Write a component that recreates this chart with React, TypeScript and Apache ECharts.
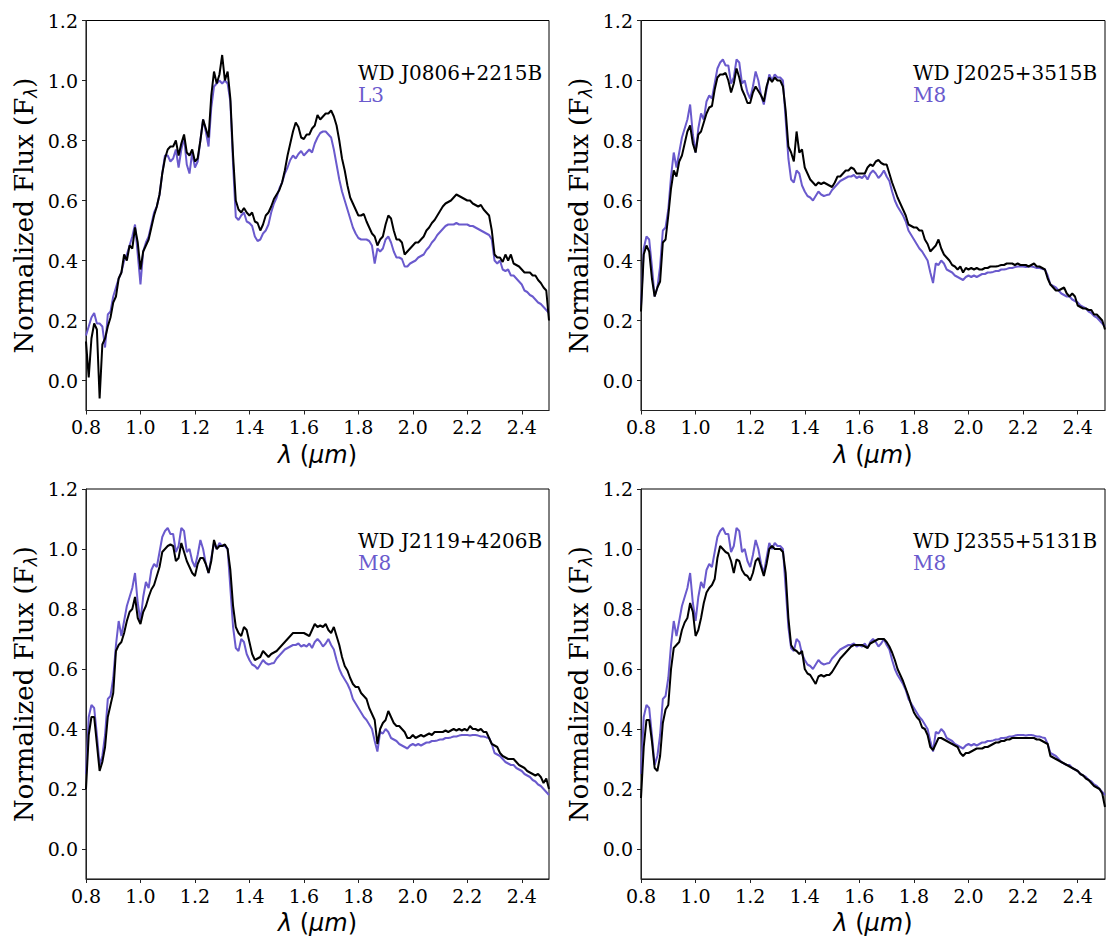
import React, { useEffect, useRef } from "react";
import * as echarts from "echarts";

const wavelength = [
  0.80, 0.81, 0.82, 0.83, 0.84, 0.85, 0.86, 0.87, 0.88, 0.89,
  0.90, 0.91, 0.92, 0.93, 0.94, 0.95, 0.96, 0.97, 0.98, 0.99,
  1.00, 1.01, 1.02, 1.03, 1.04, 1.05, 1.06, 1.07, 1.08, 1.09,
  1.10, 1.11, 1.12, 1.13, 1.14, 1.15, 1.16, 1.17, 1.18, 1.19,
  1.20, 1.21, 1.22, 1.23, 1.24, 1.25, 1.26, 1.27, 1.28, 1.29,
  1.30, 1.31, 1.32, 1.33, 1.34, 1.35, 1.36, 1.37, 1.38, 1.39,
  1.40, 1.41, 1.42, 1.43, 1.44, 1.45, 1.46, 1.47, 1.48, 1.49,
  1.50, 1.51, 1.52, 1.53, 1.54, 1.55, 1.56, 1.57, 1.58, 1.59,
  1.60, 1.61, 1.62, 1.63, 1.64, 1.65, 1.66, 1.67, 1.68, 1.69,
  1.70, 1.71, 1.72, 1.73, 1.74, 1.75, 1.76, 1.77, 1.78, 1.79,
  1.80, 1.81, 1.82, 1.83, 1.84, 1.85, 1.86, 1.87, 1.88, 1.89,
  1.90, 1.91, 1.92, 1.93, 1.94, 1.95, 1.96, 1.97, 1.98, 1.99,
  2.00, 2.01, 2.02, 2.03, 2.04, 2.05, 2.06, 2.07, 2.08, 2.09,
  2.10, 2.11, 2.12, 2.13, 2.14, 2.15, 2.16, 2.17, 2.18, 2.19,
  2.20, 2.21, 2.22, 2.23, 2.24, 2.25, 2.26, 2.27, 2.28, 2.29,
  2.30, 2.31, 2.32, 2.33, 2.34, 2.35, 2.36, 2.37, 2.38, 2.39,
  2.40, 2.41, 2.42, 2.43, 2.44, 2.45, 2.46, 2.47, 2.48, 2.49,
  2.50,
];

const fluxJ0806 = [
  0.13, 0.01, 0.14, 0.19, 0.17, -0.06, 0.12, 0.14, 0.18, 0.21,
  0.26, 0.28, 0.34, 0.36, 0.42, 0.40, 0.45, 0.44, 0.51, 0.46,
  0.37, 0.43, 0.45, 0.47, 0.51, 0.55, 0.58, 0.62, 0.69, 0.74,
  0.77, 0.78, 0.78, 0.80, 0.75, 0.79, 0.82, 0.76, 0.75, 0.77,
  0.73, 0.74, 0.80, 0.87, 0.84, 0.81, 0.95, 1.03, 0.99, 1.02,
  1.085, 1.00, 1.03, 0.94, 0.75, 0.60, 0.57, 0.56, 0.575, 0.56,
  0.55, 0.56, 0.53, 0.525, 0.50, 0.52, 0.55, 0.56, 0.58, 0.605,
  0.62, 0.635, 0.66, 0.70, 0.75, 0.79, 0.83, 0.86, 0.845, 0.81,
  0.805, 0.82, 0.82, 0.84, 0.85, 0.885, 0.87, 0.88, 0.89, 0.89,
  0.90, 0.88, 0.85, 0.80, 0.74, 0.70, 0.65, 0.61, 0.59, 0.57,
  0.55, 0.55, 0.555, 0.53, 0.51, 0.49, 0.48, 0.45, 0.47, 0.48,
  0.52, 0.55, 0.54, 0.50, 0.47, 0.47, 0.46, 0.42, 0.43, 0.44,
  0.45, 0.46, 0.46, 0.47, 0.48, 0.50, 0.51, 0.525, 0.535, 0.55,
  0.565, 0.58, 0.59, 0.595, 0.60, 0.61, 0.62, 0.615, 0.61, 0.605,
  0.60, 0.60, 0.59, 0.585, 0.58, 0.585, 0.57, 0.56, 0.55, 0.50,
  0.42, 0.41, 0.41, 0.395, 0.42, 0.40, 0.42, 0.39, 0.385, 0.38,
  0.37, 0.36, 0.36, 0.36, 0.35, 0.35, 0.335, 0.325, 0.31, 0.30,
  0.20,
];

const fluxL3 = [
  0.15, 0.18, 0.21, 0.225, 0.19, 0.19, 0.18, 0.11, 0.22, 0.23,
  0.28, 0.31, 0.34, 0.36, 0.40, 0.42, 0.45, 0.48, 0.52, 0.42,
  0.32, 0.43, 0.46, 0.48, 0.52, 0.56, 0.58, 0.62, 0.69, 0.75,
  0.75, 0.73, 0.74, 0.77, 0.71, 0.77, 0.81, 0.72, 0.69, 0.76,
  0.71, 0.73, 0.80, 0.87, 0.83, 0.78, 0.91, 0.98, 0.99, 1.00,
  0.99, 1.00, 0.99, 0.93, 0.72, 0.545, 0.535, 0.55, 0.56, 0.53,
  0.525, 0.515, 0.48, 0.465, 0.47, 0.49, 0.50, 0.52, 0.56, 0.59,
  0.61, 0.64, 0.66, 0.69, 0.71, 0.735, 0.75, 0.74, 0.755, 0.765,
  0.75, 0.76, 0.77, 0.76, 0.79, 0.81, 0.825, 0.83, 0.83, 0.82,
  0.81, 0.77, 0.72, 0.67, 0.63, 0.60, 0.57, 0.54, 0.51, 0.49,
  0.475, 0.47, 0.47, 0.47, 0.465, 0.45, 0.39, 0.44, 0.43, 0.44,
  0.47, 0.48, 0.46, 0.43, 0.41, 0.41, 0.405, 0.38, 0.38, 0.39,
  0.395, 0.40, 0.41, 0.415, 0.42, 0.435, 0.445, 0.46, 0.47, 0.485,
  0.495, 0.505, 0.515, 0.52, 0.52, 0.52, 0.525, 0.52, 0.52, 0.52,
  0.52, 0.515, 0.515, 0.51, 0.505, 0.50, 0.495, 0.49, 0.485, 0.47,
  0.40, 0.39, 0.40, 0.37, 0.365, 0.37, 0.35, 0.35, 0.34, 0.33,
  0.32, 0.30, 0.295, 0.285, 0.28, 0.27, 0.26, 0.255, 0.245, 0.235,
  0.225,
];

const fluxM8 = [
  0.25, 0.44, 0.48, 0.47, 0.38, 0.28, 0.31, 0.38, 0.50, 0.51,
  0.57, 0.68, 0.76, 0.71, 0.76, 0.81, 0.84, 0.87, 0.92, 0.82,
  0.76, 0.84, 0.89, 0.87, 0.93, 0.95, 0.94, 0.99, 1.04, 1.06,
  1.07, 1.05, 1.05, 0.99, 1.01, 1.07, 1.06, 0.99, 1.00, 0.96,
  0.94, 0.98, 1.03, 1.00, 0.95, 0.92, 0.97, 1.02, 1.00, 1.02,
  1.01, 1.01, 1.00, 0.87, 0.74, 0.67, 0.66, 0.70, 0.69, 0.65,
  0.63, 0.615, 0.61, 0.60, 0.615, 0.63, 0.62, 0.615, 0.618, 0.62,
  0.635, 0.645, 0.655, 0.665, 0.67, 0.675, 0.68, 0.68, 0.685, 0.675,
  0.68, 0.675, 0.685, 0.67, 0.69, 0.70, 0.69, 0.675, 0.685, 0.70,
  0.68, 0.665, 0.63, 0.60, 0.58, 0.565, 0.55, 0.53, 0.50, 0.485,
  0.47, 0.455, 0.44, 0.43, 0.415, 0.40, 0.36, 0.325, 0.39, 0.385,
  0.40, 0.39, 0.37, 0.365, 0.36, 0.35, 0.345, 0.34, 0.335, 0.345,
  0.35, 0.345, 0.35, 0.345, 0.35, 0.355, 0.355, 0.36, 0.36, 0.362,
  0.365, 0.365, 0.37, 0.37, 0.372, 0.375, 0.375, 0.378, 0.38, 0.38,
  0.38, 0.378, 0.38, 0.38, 0.378, 0.375, 0.375, 0.372, 0.37, 0.35,
  0.32, 0.315, 0.31, 0.30, 0.29, 0.285, 0.28, 0.28, 0.27, 0.265,
  0.26, 0.25, 0.245, 0.24, 0.23, 0.225, 0.215, 0.21, 0.20, 0.19,
  0.18,
];

const fluxJ2025 = [
  0.23, 0.42, 0.45, 0.43, 0.34, 0.28, 0.31, 0.33, 0.46, 0.47,
  0.55, 0.64, 0.70, 0.68, 0.73, 0.75, 0.79, 0.83, 0.85, 0.79,
  0.76, 0.82, 0.83, 0.86, 0.89, 0.91, 0.915, 0.97, 1.01, 1.02,
  1.02, 1.025, 1.00, 0.96, 0.99, 1.04, 1.01, 0.97, 0.95, 0.925,
  0.925, 0.96, 0.98, 0.965, 0.95, 0.93, 0.98, 1.01, 0.995, 1.01,
  1.00, 1.00, 0.98, 0.90, 0.78, 0.76, 0.73, 0.83, 0.76, 0.77,
  0.71, 0.69, 0.67, 0.66, 0.65, 0.66, 0.655, 0.66, 0.655, 0.65,
  0.645, 0.66, 0.68, 0.68, 0.69, 0.70, 0.70, 0.71, 0.705, 0.69,
  0.69, 0.69, 0.69, 0.71, 0.72, 0.715, 0.73, 0.735, 0.725, 0.72,
  0.72, 0.69, 0.66, 0.635, 0.61, 0.59, 0.57, 0.55, 0.52, 0.515,
  0.51, 0.51, 0.50, 0.50, 0.47, 0.455, 0.43, 0.44, 0.45, 0.47,
  0.44, 0.42, 0.41, 0.40, 0.385, 0.38, 0.37, 0.38, 0.36, 0.375,
  0.37, 0.375, 0.37, 0.375, 0.37, 0.37, 0.375, 0.375, 0.38, 0.38,
  0.38, 0.382, 0.385, 0.385, 0.39, 0.39, 0.39, 0.385, 0.39, 0.385,
  0.385, 0.385, 0.38, 0.385, 0.39, 0.38, 0.38, 0.375, 0.37, 0.34,
  0.32, 0.31, 0.30, 0.30, 0.305, 0.31, 0.29, 0.28, 0.29, 0.28,
  0.25, 0.245, 0.24, 0.24, 0.235, 0.235, 0.22, 0.22, 0.21, 0.20,
  0.17,
];

const fluxJ2119 = [
  0.20, 0.38, 0.44, 0.44, 0.35, 0.26, 0.29, 0.34, 0.44, 0.48,
  0.52, 0.66, 0.68, 0.69, 0.72, 0.76, 0.79, 0.80, 0.84, 0.77,
  0.75, 0.79, 0.81, 0.84, 0.865, 0.88, 0.91, 0.94, 0.99, 1.00,
  1.01, 1.015, 1.01, 0.96, 0.97, 1.02, 0.99, 0.96, 0.94, 0.92,
  0.91, 0.95, 0.97, 0.97, 0.95, 0.92, 0.96, 1.03, 1.00, 1.01,
  1.01, 1.015, 1.00, 0.93, 0.81, 0.74, 0.72, 0.71, 0.74, 0.73,
  0.69, 0.65, 0.63, 0.635, 0.64, 0.66, 0.65, 0.64, 0.65, 0.655,
  0.66, 0.67, 0.68, 0.69, 0.70, 0.71, 0.72, 0.72, 0.72, 0.72,
  0.72, 0.715, 0.71, 0.73, 0.75, 0.74, 0.745, 0.74, 0.75, 0.73,
  0.72, 0.74, 0.71, 0.68, 0.64, 0.61, 0.595, 0.57, 0.55, 0.54,
  0.54, 0.52, 0.51, 0.50, 0.47, 0.45, 0.43, 0.35, 0.40, 0.42,
  0.43, 0.46, 0.44, 0.42, 0.41, 0.41, 0.40, 0.39, 0.37, 0.37,
  0.38, 0.37, 0.375, 0.38, 0.375, 0.38, 0.385, 0.38, 0.39, 0.39,
  0.39, 0.39, 0.395, 0.39, 0.395, 0.40, 0.395, 0.40, 0.395, 0.40,
  0.395, 0.41, 0.40, 0.40, 0.395, 0.40, 0.39, 0.39, 0.37, 0.35,
  0.345, 0.34, 0.32, 0.31, 0.305, 0.30, 0.30, 0.30, 0.29, 0.28,
  0.275, 0.27, 0.26, 0.255, 0.25, 0.245, 0.25, 0.24, 0.22, 0.235,
  0.20,
];

const fluxJ2355 = [
  0.17, 0.34, 0.43, 0.43, 0.36, 0.27, 0.26, 0.31, 0.42, 0.465,
  0.48, 0.60, 0.67, 0.68, 0.69, 0.73, 0.755, 0.77, 0.82, 0.79,
  0.71, 0.73, 0.77, 0.82, 0.855, 0.87, 0.88, 0.90, 0.97, 1.01,
  1.00, 0.99, 0.985, 0.96, 0.92, 0.965, 0.96, 0.93, 0.915, 0.91,
  0.895, 0.92, 0.96, 0.97, 0.94, 0.91, 0.95, 1.00, 1.01, 1.00,
  1.00, 1.00, 0.99, 0.92, 0.77, 0.68, 0.665, 0.66, 0.65, 0.66,
  0.60, 0.585, 0.58, 0.565, 0.55, 0.575, 0.58, 0.575, 0.58, 0.58,
  0.59, 0.605, 0.62, 0.635, 0.645, 0.655, 0.665, 0.675, 0.68, 0.68,
  0.68, 0.68, 0.675, 0.67, 0.685, 0.69, 0.695, 0.70, 0.70, 0.70,
  0.69, 0.675, 0.655, 0.63, 0.60, 0.58, 0.56, 0.535, 0.51, 0.48,
  0.455, 0.44, 0.43, 0.405, 0.40, 0.38, 0.34, 0.33, 0.35, 0.37,
  0.37, 0.365, 0.36, 0.355, 0.35, 0.345, 0.34, 0.32, 0.31, 0.32,
  0.32, 0.325, 0.33, 0.335, 0.335, 0.335, 0.34, 0.34, 0.345, 0.35,
  0.355, 0.355, 0.36, 0.36, 0.365, 0.365, 0.37, 0.37, 0.37, 0.37,
  0.37, 0.37, 0.37, 0.37, 0.37, 0.365, 0.365, 0.36, 0.355, 0.35,
  0.31, 0.305, 0.30, 0.295, 0.29, 0.285, 0.28, 0.275, 0.27, 0.265,
  0.26, 0.25, 0.245, 0.235, 0.23, 0.22, 0.21, 0.205, 0.20, 0.185,
  0.14,
];

const xTicks = [0.8, 1.0, 1.2, 1.4, 1.6, 1.8, 2.0, 2.2, 2.4];
const yTicks = [0.0, 0.2, 0.4, 0.6, 0.8, 1.0, 1.2];

const objectNames = ["WD J0806+2215B", "WD J2025+3515B", "WD J2119+4206B", "WD J2355+5131B"];
const templateNames = ["L3", "M8", "M8", "M8"];
const objectFluxes = [fluxJ0806, fluxJ2025, fluxJ2119, fluxJ2355];
const templateFluxes = [fluxL3, fluxM8, fluxM8, fluxM8];

const PURPLE = "#6A5ACD";
const SERIF = "'DejaVu Serif'";

const gridRects = [
  { left: 86, top: 20.5, width: 463, height: 390 },
  { left: 641, top: 20.5, width: 464, height: 390 },
  { left: 86, top: 489, width: 463, height: 390 },
  { left: 641, top: 489, width: 464, height: 390 },
];

export default function App() {
  const ref = useRef<HTMLDivElement>(null);

  useEffect(() => {
    document.body.style.margin = "0";
    if (!ref.current) return;
    const chart = echarts.init(ref.current, undefined, { renderer: "svg" });

    const zip = (ys: number[]) => wavelength.map((x, i) => [x, ys[i]]);

    const grid = gridRects.map((g) => ({
      ...g,
      show: true,
      borderColor: "#000",
      borderWidth: 1,
      backgroundColor: "transparent",
      containLabel: false,
    }));

    const xAxis = gridRects.map((_, i) => ({
      type: "value",
      gridIndex: i,
      min: 0.8,
      max: 2.5,
      name: "{i|λ} ({i|μm})",
      nameLocation: "middle",
      nameGap: 32,
      nameTextStyle: {
        fontFamily: "'DejaVu Sans'",
        fontSize: 24,
        color: "#000",
        rich: { i: { fontFamily: "'DejaVu Sans'", fontStyle: "italic", fontSize: 24, color: "#000" } },
      },
      axisLine: { show: true, onZero: false, lineStyle: { color: "#222", width: 1 } },
      axisTick: { show: true, inside: false, length: 4, customValues: xTicks, lineStyle: { color: "#222" } },
      axisLabel: {
        customValues: xTicks,
        formatter: (v: number) => v.toFixed(1),
        fontFamily: SERIF,
        fontSize: 19,
        color: "#000",
        margin: 7,
      },
      splitLine: { show: false },
    }));

    const yAxis = gridRects.map((_, i) => ({
      type: "value",
      gridIndex: i,
      min: -0.1,
      max: 1.2,
      name: "Normalized Flux (F{s|λ})",
      nameLocation: "middle",
      nameGap: 47,
      nameTextStyle: {
        fontFamily: SERIF,
        fontSize: 26,
        color: "#000",
        lineHeight: 30,
        rich: {
          s: { fontFamily: "'DejaVu Sans'", fontStyle: "italic", fontSize: 17, lineHeight: 13, verticalAlign: "bottom", color: "#000" },
        },
      },
      axisLine: { show: true, onZero: false, lineStyle: { color: "#222", width: 1 } },
      axisTick: { show: true, inside: false, length: 4, customValues: yTicks, lineStyle: { color: "#222" } },
      axisLabel: {
        customValues: yTicks,
        formatter: (v: number) => v.toFixed(1),
        fontFamily: SERIF,
        fontSize: 19,
        color: "#000",
        margin: 8,
      },
      splitLine: { show: false },
    }));

    const series: any[] = [];
    gridRects.forEach((_, i) => {
      series.push({
        type: "line",
        name: templateNames[i],
        xAxisIndex: i,
        yAxisIndex: i,
        data: zip(templateFluxes[i]),
        showSymbol: false,
        symbol: "none",
        lineStyle: { color: PURPLE, width: 2 },
        clip: true,
        z: 2,
      });
      series.push({
        type: "line",
        name: objectNames[i],
        xAxisIndex: i,
        yAxisIndex: i,
        data: zip(objectFluxes[i]),
        showSymbol: false,
        symbol: "none",
        lineStyle: { color: "#000", width: 2 },
        clip: true,
        z: 3,
      });
    });

    const graphic: any[] = [];
    gridRects.forEach((g, i) => {
      graphic.push({
        type: "text",
        x: g.left + 272,
        y: g.top + 52,
        style: { text: objectNames[i], fill: "#000", font: `20px ${SERIF}`, verticalAlign: "middle", align: "left" },
        z: 10,
      });
      graphic.push({
        type: "text",
        x: g.left + 272,
        y: g.top + 74,
        style: { text: templateNames[i], fill: PURPLE, font: `20px ${SERIF}`, verticalAlign: "middle", align: "left" },
        z: 10,
      });
    });

    chart.setOption({
      animation: false,
      backgroundColor: "#fff",
      grid,
      xAxis,
      yAxis,
      series,
      graphic,
    });

    return () => chart.dispose();
  }, []);

  return <div ref={ref} style={{ width: 1106, height: 941 }} />;
}
